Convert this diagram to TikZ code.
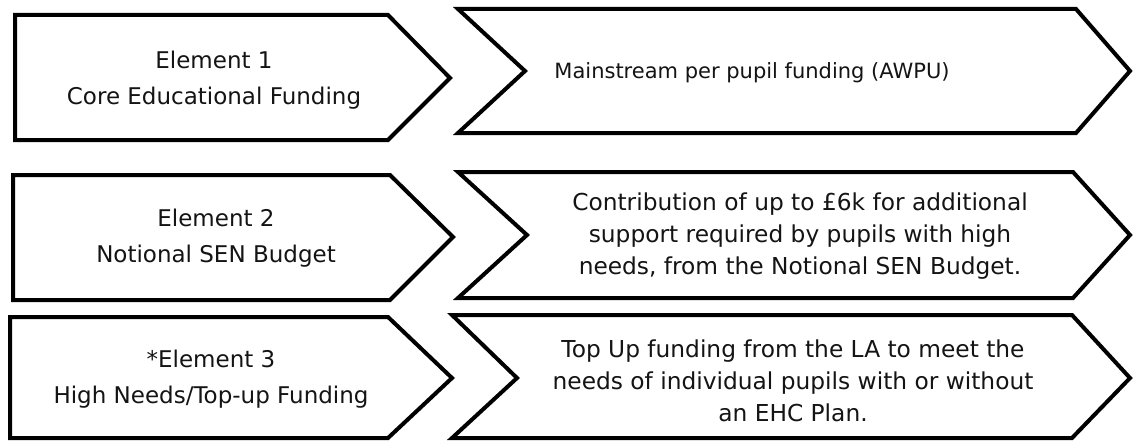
\documentclass[tikz,border=0pt]{standalone}
\usepackage{fontspec}
\setmainfont{DejaVu Sans}
\begin{document}
\begin{tikzpicture}[x=1pt,y=-1pt,
  shapeline/.style={draw=black,line width=4pt,fill=white,line join=miter},
  lefttext/.style={align=center,inner sep=0pt,font=\fontsize{23}{36}\selectfont,text=black!92},
  righttext/.style={align=center,inner sep=0pt,font=\fontsize{23.3}{32}\selectfont,text=black!92}]
\useasboundingbox (0,0) rectangle (1134,441);
% row 1
\draw[shapeline] (15,15) -- (388,15) -- (450,78) -- (388,140) -- (15,140) -- cycle;
\draw[shapeline] (458,9) -- (1076,9) -- (1130,71) -- (1076,133) -- (458,133) -- (525,71) -- cycle;
% row 2
\draw[shapeline] (13,175) -- (390,175) -- (453,237) -- (390,300) -- (13,300) -- cycle;
\draw[shapeline] (458,172) -- (1073,172) -- (1130,235) -- (1073,298) -- (458,298) -- (527,235) -- cycle;
% row 3
\draw[shapeline] (10,317) -- (388,317) -- (452,378) -- (388,438) -- (10,438) -- cycle;
\draw[shapeline] (452,315) -- (1072,315) -- (1130,378) -- (1072,438) -- (452,438) -- (517,378) -- cycle;
% texts
\node[lefttext] (e1) at (214,80) {Element 1\\Core Educational Funding};
\node[righttext,font=\fontsize{21}{32}\selectfont] (d1) at (752,73) {Mainstream per pupil funding (AWPU)};
\node[lefttext] (e2) at (216,238) {Element 2\\Notional SEN Budget};
\node[righttext] (d2) at (800,236) {Contribution of up to £6k for additional\\support required by pupils with high\\needs, from the Notional SEN Budget.};
\node[lefttext] (e3) at (211,379) {*Element 3\\High Needs/Top-up Funding};
\node[righttext] (d3) at (793,381) {Top Up funding from the LA to meet the\\needs of individual pupils with or without\\an EHC Plan.};
\end{tikzpicture}
\end{document}
